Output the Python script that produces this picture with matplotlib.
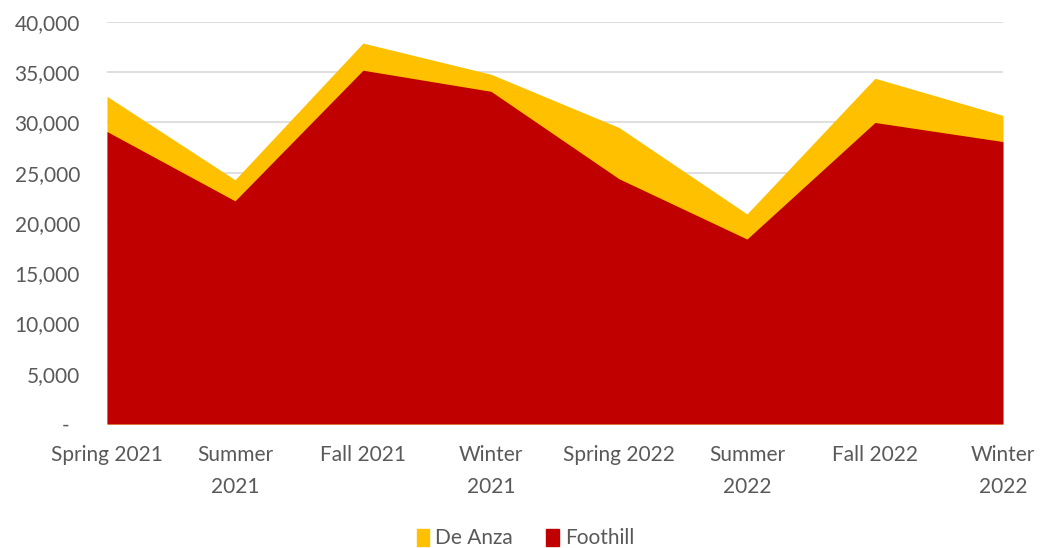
import matplotlib
matplotlib.use("Agg")
import matplotlib.pyplot as plt
from matplotlib.ticker import FuncFormatter
from matplotlib.patches import Patch

categories = ["Spring 2021", "Summer\n2021", "Fall 2021", "Winter\n2021",
              "Spring 2022", "Summer\n2022", "Fall 2022", "Winter\n2022"]
de_anza = [32600, 24300, 37900, 34800, 29500, 20900, 34400, 30700]
foothill = [29100, 22200, 35200, 33100, 24400, 18400, 30000, 28100]
yticks = [0, 5000, 10000, 15000, 20000, 25000, 30000, 35000, 40000]

plt.rcParams['font.family'] = ['Lato', 'DejaVu Sans']
text_color = '#595959'

fig = plt.figure(figsize=(10.51, 5.48), dpi=100)
ax = fig.add_axes([0.1018, 0.2263, 0.8525, 0.7336])

x = list(range(len(categories)))
ax.fill_between(x, 0, de_anza, color='#FFC000', linewidth=0, zorder=2)
ax.fill_between(x, 0, foothill, color='#C00000', linewidth=0, zorder=3)

ax.set_xlim(0, len(categories) - 1)
ax.set_ylim(0, 40000)
ax.set_yticks(yticks)
ax.yaxis.set_major_formatter(FuncFormatter(lambda v, p: '-  ' if v == 0 else f'{int(v):,}'))
ax.set_xticks(x)
ax.set_xticklabels(categories, linespacing=1.75)
ax.tick_params(axis='both', length=0, labelsize=15, labelcolor=text_color)
ax.tick_params(axis='x', pad=15)
ax.tick_params(axis='y', pad=19.5)
ax.grid(axis='y', color='#D9D9D9', linewidth=1.2, zorder=1)
ax.set_axisbelow(True)
for s in ax.spines.values():
    s.set_visible(False)

handles = [Patch(color='#FFC000', label='De Anza'), Patch(color='#C00000', label='Foothill')]
fig.legend(handles=handles, loc='lower center', bbox_to_anchor=(0.5, -0.035), ncol=2,
           frameon=False, fontsize=15, labelcolor=text_color, handlelength=0.6,
           handleheight=0.85, handletextpad=0.3, columnspacing=1.6)

fig.savefig('out.png', dpi=100)
